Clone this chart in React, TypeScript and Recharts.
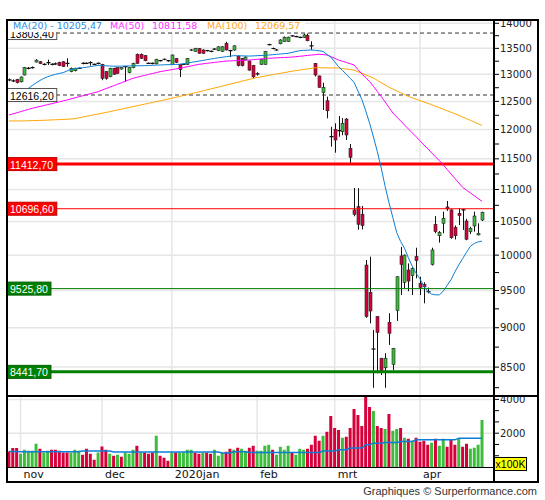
import React from 'react';
import {
  ComposedChart,
  Bar,
  Line,
  XAxis,
  YAxis,
  CartesianGrid,
  ReferenceLine,
  Cell,
} from 'recharts';

// trading days, grouped per month
const tradingDays: [string, number[]][] = [
  ['2019-10', [29, 30, 31]],
  ['2019-11', [1, 4, 5, 6, 7, 8, 11, 12, 13, 14, 15, 18, 19, 20, 21, 22, 25, 26, 27, 28, 29]],
  ['2019-12', [2, 3, 4, 5, 6, 9, 10, 11, 12, 13, 16, 17, 18, 19, 20, 23, 27, 30]],
  ['2020-01', [2, 3, 6, 7, 8, 9, 10, 13, 14, 15, 16, 17, 20, 21, 22, 23, 24, 27, 28, 29, 30, 31]],
  ['2020-02', [3, 4, 5, 6, 7, 10, 11, 12, 13, 14, 17, 18, 19, 20, 21, 24, 25, 26, 27, 28]],
  ['2020-03', [2, 3, 4, 5, 6, 9, 10, 11, 12, 13, 16, 17, 18, 19, 20, 23, 24, 25, 26, 27, 30, 31]],
  ['2020-04', [1, 2, 3, 6, 7, 8, 9, 14, 15, 16, 17, 20, 21, 22, 23, 24, 27]],
];
const days = tradingDays.flatMap(([m, ds]) => ds.map((d) => `${m}-${String(d).padStart(2, '0')}`));

const monthTicks = ['2019-11-01', '2019-12-02', '2020-01-02', '2020-02-03', '2020-03-02', '2020-04-01'];
const monthLabels = ['nov', 'dec', '2020jan', 'feb', 'mrt', 'apr'];

const openPx = [
  12895, 12878, 12905, 12860, 12988, 13115, 13127, 13235, 13240, 13190,
  13225, 13190, 13200, 13230, 13240, 13210, 13051, 13069, 13115, 13210,
  13210, 13222, 13191, 13210, 13191, 13051, 12956, 13115, 13127, 13100,
  13145, 13032, 13127, 13384, 13384, 13357, 13210, 13210, 13200, 13260,
  13288, 13260, 13191, 13300, 13190, 13190, 13190, 13468, 13440, 13497,
  13468, 13455, 13440, 13483, 13456, 13440, 13597, 13456, 13468, 13350,
  13300, 13275, 13253, 13170, 13010, 13190, 13190, 13575, 13497, 13468,
  13590, 13635, 13635, 13745, 13733, 13716, 13716, 13754, 13550, 13210,
  12970, 12659, 12512, 11875, 12003, 11979, 11962, 12184, 11677, 10678,
  10729, 10611, 9857, 9475, 8726, 9146, 8610, 8492, 9071, 8535,
  9226, 9988, 9613, 9786, 9708, 9978, 9598, 9585, 9483, 9867,
  10458, 10286, 10473, 10724, 10678, 10412, 10626, 10678, 10508, 10346,
  10432, 10297, 10523,
];
const highPx = [
  12920, 12905, 12915, 12960, 13140, 13140, 13150, 13290, 13255, 13210,
  13280, 13210, 13225, 13240, 13250, 13307, 13130, 13125, 13130, 13230,
  13225, 13250, 13205, 13225, 13200, 13060, 13125, 13125, 13135, 13135,
  13150, 13140, 13222, 13400, 13400, 13370, 13225, 13225, 13295, 13275,
  13300, 13275, 13380, 13310, 13200, 13205, 13310, 13485, 13510, 13505,
  13480, 13470, 13455, 13500, 13540, 13545, 13630, 13470, 13560, 13360,
  13310, 13345, 13265, 13180, 13040, 13290, 13450, 13590, 13515, 13485,
  13680, 13735, 13730, 13760, 13750, 13730, 13790, 13795, 13640, 13215,
  12975, 12843, 12586, 12048, 12109, 12237, 12200, 12200, 11750, 11024,
  11020, 10740, 9930, 9978, 8971, 9150, 8615, 8672, 9191, 8740,
  9700, 10120, 10010, 9880, 9830, 10108, 9691, 9613, 9540, 10108,
  10584, 10356, 10651, 10818, 10690, 10440, 10703, 10693, 10540, 10420,
  10651, 10473, 10651,
];
const lowPx = [
  12870, 12855, 12830, 12850, 12980, 13095, 13110, 13225, 13195, 13170,
  13178, 13170, 13180, 13155, 13140, 13145, 13040, 13055, 13100, 13190,
  13195, 13165, 13175, 13190, 12890, 12900, 12945, 12990, 13010, 13090,
  12862, 13020, 13115, 13200, 13295, 13250, 13195, 13190, 13190, 13245,
  13270, 13240, 13180, 13215, 12950, 13175, 13180, 13450, 13430, 13395,
  13395, 13440, 13425, 13470, 13445, 13430, 13460, 13330, 13455, 13150,
  13150, 13265, 13065, 12930, 12975, 13180, 13180, 13560, 13480, 13450,
  13580, 13625, 13625, 13730, 13720, 13700, 13705, 13640, 13470, 12960,
  12750, 12345, 12197, 11704, 11603, 11875, 11900, 11819, 11414, 10580,
  10376, 10380, 9130, 9058, 8249, 8424, 8403, 8249, 8778, 8464,
  9089, 9438, 9530, 9490, 9438, 9669, 9438, 9325, 9460, 9850,
  10322, 10183, 10322, 10663, 10240, 10230, 10447, 10372, 10220, 10310,
  10346, 10290, 10508,
];
const closePx = [
  12895, 12878, 12845, 12950, 13127, 13115, 13127, 13270, 13205, 13190,
  13225, 13190, 13200, 13165, 13150, 13210, 13115, 13115, 13115, 13210,
  13210, 13222, 13191, 13210, 12926, 12926, 13115, 13002, 13020, 13127,
  13145, 13127, 13210, 13210, 13307, 13260, 13210, 13210, 13288, 13260,
  13288, 13260, 13370, 13230, 13090, 13190, 13300, 13468, 13497, 13404,
  13404, 13455, 13440, 13483, 13530, 13530, 13468, 13456, 13550, 13165,
  13165, 13330, 13080, 12952, 13010, 13280, 13440, 13575, 13497, 13468,
  13665, 13720, 13720, 13745, 13733, 13716, 13765, 13650, 13550, 12988,
  12758, 12758, 12331, 11875, 11819, 11979, 12109, 11905, 11526, 10610,
  10458, 10437, 9146, 9221, 8726, 8940, 8443, 8610, 8928, 8735,
  9691, 9867, 10000, 9631, 9810, 9920, 9543, 9552, 9483, 10075,
  10346, 10332, 10549, 10693, 10256, 10286, 10590, 10678, 10233, 10398,
  10584, 10322, 10642,
];

const ma20 = [
  null, null, null, null, null, 12740, 12790, 12840, 12885, 12926,
  12955, 12980, 13000, 13018, 13032, 13065, 13096, 13108, 13118, 13126,
  13134, 13148, 13160, 13171, 13168, 13162, 13158, 13155, 13155, 13156,
  13159, 13160, 13162, 13163, 13164, 13165, 13168, 13172, 13175, 13178,
  13181, 13184, 13186, 13188, 13191, 13202, 13215, 13228, 13240, 13253,
  13266, 13279, 13292, 13304, 13316, 13327, 13337, 13347, 13357, 13356,
  13354, 13352, 13350, 13353, 13357, 13361, 13365, 13370, 13376, 13383,
  13390, 13397, 13404, 13420, 13438, 13456, 13460, 13464, 13468, 13462,
  13452, 13440, 13380, 13330, 13240, 13145, 13075, 13000, 12925, 12850,
  12690, 12537, 12330, 12109, 11870, 11620, 11348, 11050, 10790, 10560,
  10330, 10200, 10100, 9960, 9840, 9740, 9660, 9560, 9485, 9450,
  9440, 9440, 9490, 9570, 9650, 9760, 9860, 9950, 10040, 10130,
  10170, 10195, 10205,
];
const ma50 = [
  12256, 12275, 12295, 12315, 12335, 12355, 12375, 12392, 12408, 12425,
  12442, 12458, 12475, 12492, 12509, 12526, 12545, 12564, 12583, 12602,
  12621, 12640, 12658, 12677, 12705, 12733, 12760, 12788, 12815, 12843,
  12870, 12898, 12926, 12944, 12962, 12980, 12998, 13015, 13033, 13051,
  13064, 13077, 13090, 13102, 13115, 13130, 13145, 13160, 13176, 13191,
  13200, 13209, 13218, 13227, 13236, 13245, 13253, 13256, 13260, 13263,
  13266, 13270, 13273, 13280, 13287, 13293, 13300, 13307, 13311, 13315,
  13319, 13322, 13326, 13330, 13338, 13346, 13354, 13362, 13370, 13377,
  13384, 13378, 13370, 13340, 13307, 13273, 13250, 13226, 13202, 13178,
  13090, 13010, 12940, 12865, 12775, 12680, 12588, 12490, 12390, 12290,
  12220, 12150, 12080, 12010, 11942, 11875, 11805, 11735, 11670, 11600,
  11535, 11468, 11400, 11325, 11250, 11178, 11105, 11033, 10988, 10944,
  10900, 10856, 10812,
];
const ma100 = [
  12150, 12150, 12150, 12150, 12152, 12154, 12156, 12158, 12160, 12162,
  12165, 12168, 12171, 12174, 12177, 12180, 12185, 12190, 12204, 12218,
  12232, 12246, 12260, 12273, 12287, 12300, 12315, 12330, 12345, 12360,
  12375, 12390, 12405, 12420, 12435, 12450, 12465, 12480, 12495, 12510,
  12525, 12540, 12557, 12573, 12590, 12607, 12623, 12640, 12657, 12675,
  12692, 12710, 12727, 12745, 12762, 12780, 12798, 12816, 12834, 12852,
  12870, 12888, 12906, 12923, 12940, 12953, 12967, 12980, 12993, 13007,
  13020, 13033, 13047, 13060, 13071, 13082, 13093, 13103, 13114, 13125,
  13125, 13124, 13123, 13122, 13121, 13120, 13110, 13100, 13090, 13080,
  13050, 13020, 12990, 12960, 12930, 12888, 12845, 12803, 12760, 12726,
  12692, 12658, 12624, 12590, 12565, 12540, 12515, 12490, 12465, 12440,
  12413, 12386, 12359, 12331, 12304, 12277, 12250, 12220, 12190, 12160,
  12130, 12100, 12070,
];

// volume in units of 100K
const volume = [
  920, 1118, 1118, 784, 1020, 960, 960, 1373, 1078, 863,
  960, 1020, 1020, 960, 863, 863, 863, 1020, 960, 725,
  1078, 784, 431, 863, 1216, 1020, 784, 667, 725, 608,
  863, 784, 1020, 1255, 863, 863, 784, 863, 1843, 667,
  549, 373, 863, 863, 863, 863, 1020, 1020, 863, 784,
  863, 863, 784, 1020, 667, 824, 902, 1078, 1020, 1137,
  1078, 960, 1137, 1255, 960, 960, 1255, 1314, 1020, 725,
  1196, 1020, 1255, 863, 725, 1078, 1020, 1078, 1314, 1843,
  1549, 1843, 2078, 3020, 2314, 2196, 1725, 1784, 2314, 3431,
  3078, 2431, 4180, 3549, 3314, 2431, 2314, 2255, 3137, 2137,
  2255, 2314, 1725, 1667, 1549, 1725, 1490, 1549, 1314, 1431,
  1667, 1255, 1667, 1196, 1608, 1314, 1667, 1196, 1373, 1078,
  1137, 1314, 2784,
];
const volumeMa = [
  922, 922, 922, 902, 902, 902, 902, 902, 902, 902,
  902, 902, 902, 902, 902, 902, 902, 902, 902, 941,
  941, 941, 941, 941, 941, 941, 941, 882, 882, 882,
  882, 882, 882, 882, 882, 882, 882, 882, 882, 882,
  882, 882, 882, 882, 882, 882, 882, 882, 882, 882,
  882, 882, 882, 882, 882, 824, 824, 824, 902, 902,
  902, 902, 863, 863, 863, 863, 863, 863, 863, 863,
  863, 863, 863, 863, 863, 863, 863, 863, 863, 863,
  863, 941, 941, 941, 941, 1020, 1020, 1020, 1118, 1118,
  1118, 1118, 1314, 1314, 1412, 1412, 1412, 1451, 1451, 1451,
  1451, 1510, 1510, 1510, 1510, 1608, 1608, 1608, 1608, 1608,
  1608, 1608, 1608, 1608, 1608, 1608, 1706, 1706, 1706, 1706,
  1706, 1706, 1706,
];
// g = green bar, r = red bar
const volumeSide = (
  'rrrgggggrg' + 'grrrrrgggr' + 'rrrgrrgrgr' + 'gggrgrrrgr' + 'rrgrggggrr' + 'grrgggrrgr' +
  'ggrrggggrg' + 'gggrgggrrr' + 'rgrrrrgrrr' + 'rrrrgrrgrg' + 'grgrgrrrrg' + 'rggrrrgrrg' + 'ggg'
).split('');

const levelValues = [13803.4, 12616.2, 11412.7, 10696.6, 9525.8, 8441.7];
const levelLabels = ['13803,40', '12616,20', '11412,70', '10696,60', '9525,80', '8441,70'];

const priceTicks = [
  8250, 8500, 8750, 9000, 9250, 9500, 9750, 10000, 10250, 10500, 10750, 11000,
  11250, 11500, 11750, 12000, 12250, 12500, 12750, 13000, 13250, 13500, 13750, 14000,
];
const priceGrid = [8500, 9000, 9500, 10000, 10500, 11000, 11500, 12000, 12500, 13000, 13500, 14000];
const volumeTicks = [667, 1333, 2000, 2667, 3333, 4000];

const rows = days.map((date, i) => ({
  date,
  open: openPx[i],
  high: highPx[i],
  low: lowPx[i],
  close: closePx[i],
  ma20: ma20[i],
  ma50: ma50[i],
  ma100: ma100[i],
  vol: volume[i],
  volMa: volumeMa[i],
  side: volumeSide[i],
}));

const RED = '#d6003a';
const GREEN = '#3cbd3c';
const AXIS_FONT = 'DejaVu Sans, Verdana, sans-serif';
const BOX_FONT = 'Liberation Sans, Arial, sans-serif';

const levelLook = [
  { stroke: '#333', width: 1, dash: '4 3', box: '#fff', border: '#555', ink: '#000' },
  { stroke: '#333', width: 1, dash: '4 3', box: '#fff', border: '#555', ink: '#000' },
  { stroke: '#ff0000', width: 3, dash: undefined, box: '#ff0000', border: '#c00000', ink: '#fff' },
  { stroke: '#ff0000', width: 1, dash: undefined, box: '#ff0000', border: '#c00000', ink: '#fff' },
  { stroke: '#008000', width: 1, dash: undefined, box: '#008000', border: '#005c00', ink: '#fff' },
  { stroke: '#008000', width: 3, dash: undefined, box: '#008000', border: '#005c00', ink: '#fff' },
];

function Candle(props: any) {
  const { x, y, width, height, payload } = props;
  if (!payload || height == null) return null;
  const { open, high, low, close } = payload;
  const span = Math.log(high / low);
  const at = (v: number) => (span > 0 ? y + (height * Math.log(high / v)) / span : y);
  const cx = Math.round(x + width / 2) + 0.5;
  const top = at(Math.max(open, close));
  const bottom = at(Math.min(open, close));
  return (
    <g>
      <line x1={cx} x2={cx} y1={y} y2={y + height} stroke="#111" strokeWidth={1} />
      {open === close ? (
        <line x1={cx - 2} x2={cx + 2} y1={top} y2={top} stroke="#111" strokeWidth={1.2} />
      ) : (
        <rect
          x={cx - 1.5}
          y={top}
          width={3}
          height={Math.max(bottom - top, 1)}
          fill={close > open ? GREEN : RED}
          stroke="#222"
          strokeWidth={0.6}
        />
      )}
    </g>
  );
}

function LevelTag(props: any) {
  const { viewBox, text, look } = props;
  if (!viewBox) return null;
  const digits = text.replace(',', '').length;
  const w = digits * 5.84 + 2.9 + 6;
  return (
    <g>
      <rect x={viewBox.x} y={viewBox.y - 6.5} width={w} height={13} fill={look.box} stroke={look.border} strokeWidth={1} />
      <text
        x={viewBox.x + 3}
        y={viewBox.y + 0.5}
        dominantBaseline="central"
        fontSize={10.5}
        fontFamily={BOX_FONT}
        fill={look.ink}
      >
        {text}
      </text>
    </g>
  );
}

function PriceTick({ x, y, payload }: any) {
  const v = payload.value;
  return (
    <g>
      <line x1={x} x2={x + 5} y1={y} y2={y} stroke="#000" />
      {v % 500 === 0 && (
        <text x={x + 6} y={y} dominantBaseline="central" fontSize={10} fontFamily={AXIS_FONT} fill="#222">
          {v}
        </text>
      )}
    </g>
  );
}

function VolumeTick({ x, y, payload }: any) {
  const v = payload.value;
  return (
    <g>
      <line x1={x} x2={x + 5} y1={y} y2={y} stroke="#000" />
      {(v === 2000 || v === 4000) && (
        <text x={x + 6} y={y + 0.5} dominantBaseline="central" fontSize={10} fontFamily={AXIS_FONT} fill="#222">
          {v}
        </text>
      )}
    </g>
  );
}

function MonthTick({ x, y, payload }: any) {
  const i = monthTicks.indexOf(payload.value);
  return (
    <text x={x + 3} y={y + 7.5} dominantBaseline="central" fontSize={11} fontFamily={AXIS_FONT} fill="#111">
      {monthLabels[i]}
    </text>
  );
}

const abs = (left: number, top: number, width: number, height: number, extra: React.CSSProperties = {}) =>
  ({ position: 'absolute', left, top, width, height, ...extra }) as React.CSSProperties;

export default function App() {
  return (
    <div style={abs(0, 0, 545, 500, { background: '#fff', fontFamily: AXIS_FONT })}>
      <style>{'svg.recharts-surface { overflow: visible; }'}</style>
      <div style={abs(0, 0, 545, 396)}>
        <ComposedChart width={545} height={396} data={rows} margin={{ top: 20, right: 0, bottom: 0, left: 7 }}>
          <CartesianGrid stroke="#e6e6e6" strokeWidth={1.5} horizontalValues={priceGrid} verticalValues={monthTicks} />
          <XAxis dataKey="date" hide padding={{ left: 0, right: 10 }} />
          <YAxis
            orientation="right"
            width={51}
            scale="log"
            type="number"
            domain={[8151, 14067]}
            allowDataOverflow
            ticks={priceTicks}
            interval={0}
            tick={<PriceTick />}
            tickSize={0}
            tickMargin={0}
            tickLine={false}
            axisLine={false}
          />
          {levelValues.map((v, i) => (
            <ReferenceLine
              key={v}
              y={v}
              stroke={levelLook[i].stroke}
              strokeWidth={levelLook[i].width}
              strokeDasharray={levelLook[i].dash}
              label={<LevelTag text={levelLabels[i]} look={levelLook[i]} />}
            />
          ))}
          <Line dataKey="ma100" stroke="#ffa500" strokeWidth={1} dot={false} isAnimationActive={false} />
          <Line dataKey="ma50" stroke="#ff00ff" strokeWidth={1} dot={false} isAnimationActive={false} />
          <Line dataKey="ma20" stroke="#0a7ed6" strokeWidth={1} dot={false} isAnimationActive={false} />
          <Bar
            dataKey={(d: any) => [d.low, d.high]}
            barCategoryGap={0}
            shape={<Candle />}
            isAnimationActive={false}
          />
        </ComposedChart>
      </div>

      <div style={abs(0, 396, 545, 86)}>
        <ComposedChart width={545} height={86} data={rows} margin={{ top: 0, right: 0, bottom: 0, left: 7 }}>
          <CartesianGrid stroke="#e6e6e6" strokeWidth={1.5} horizontalValues={[2000, 4000]} verticalValues={monthTicks} />
          <XAxis
            dataKey="date"
            height={15}
            padding={{ left: 0, right: 10 }}
            ticks={monthTicks}
            interval={0}
            tick={<MonthTick />}
            tickSize={0}
            tickMargin={0}
            tickLine={false}
            axisLine={false}
          />
          <YAxis
            orientation="right"
            width={51}
            type="number"
            domain={[0, 4200]}
            allowDataOverflow
            ticks={volumeTicks}
            interval={0}
            tick={<VolumeTick />}
            tickSize={0}
            tickMargin={0}
            tickLine={false}
            axisLine={false}
          />
          <Bar dataKey="vol" barCategoryGap="15%" isAnimationActive={false}>
            {rows.map((r) => (
              <Cell key={r.date} fill={r.side === 'g' ? GREEN : RED} />
            ))}
          </Bar>
          <Line dataKey="volMa" stroke="#0a7ed6" strokeWidth={1.5} dot={false} isAnimationActive={false} />
        </ComposedChart>
      </div>

      {/* legend strip over the top of the price panel */}
      <div style={abs(8, 20, 297, 12, { background: '#fff', fontSize: 9.5, lineHeight: '12px', whiteSpace: 'nowrap' })}>
        <span style={{ position: 'absolute', left: 5, color: '#2b8ee6' }}>MA(20) - 10205,47</span>
        <span style={{ position: 'absolute', left: 102, color: '#ff33ff' }}>MA(50)</span>
        <span style={{ position: 'absolute', left: 144, color: '#ff33ff' }}>10811,58</span>
        <span style={{ position: 'absolute', left: 199, color: '#ffa623' }}>MA(100)</span>
        <span style={{ position: 'absolute', left: 247, color: '#ffa623' }}>12069,57</span>
      </div>

      {/* frame */}
      <div style={abs(6, 19, 533, 464, { border: '2px solid #000', boxSizing: 'border-box' })} />
      <div style={abs(493, 19, 1.5, 464, { background: '#000' })} />
      <div style={abs(6, 395, 533, 1.5, { background: '#000' })} />
      <div style={abs(6, 466.5, 488, 1.5, { background: '#000' })} />

      <div
        style={abs(494, 457, 33, 14, {
          background: '#ffff00',
          border: '1px solid #000',
          boxSizing: 'border-box',
          fontFamily: BOX_FONT,
          fontSize: 10.5,
          lineHeight: '12px',
          textAlign: 'center',
        })}
      >
        x100K
      </div>

      <div
        style={abs(300, 485, 237, 13, {
          fontFamily: BOX_FONT,
          fontSize: 11,
          lineHeight: '13px',
          textAlign: 'right',
          color: '#333',
        })}
      >
        Graphiques © Surperformance.com
      </div>
    </div>
  );
}
